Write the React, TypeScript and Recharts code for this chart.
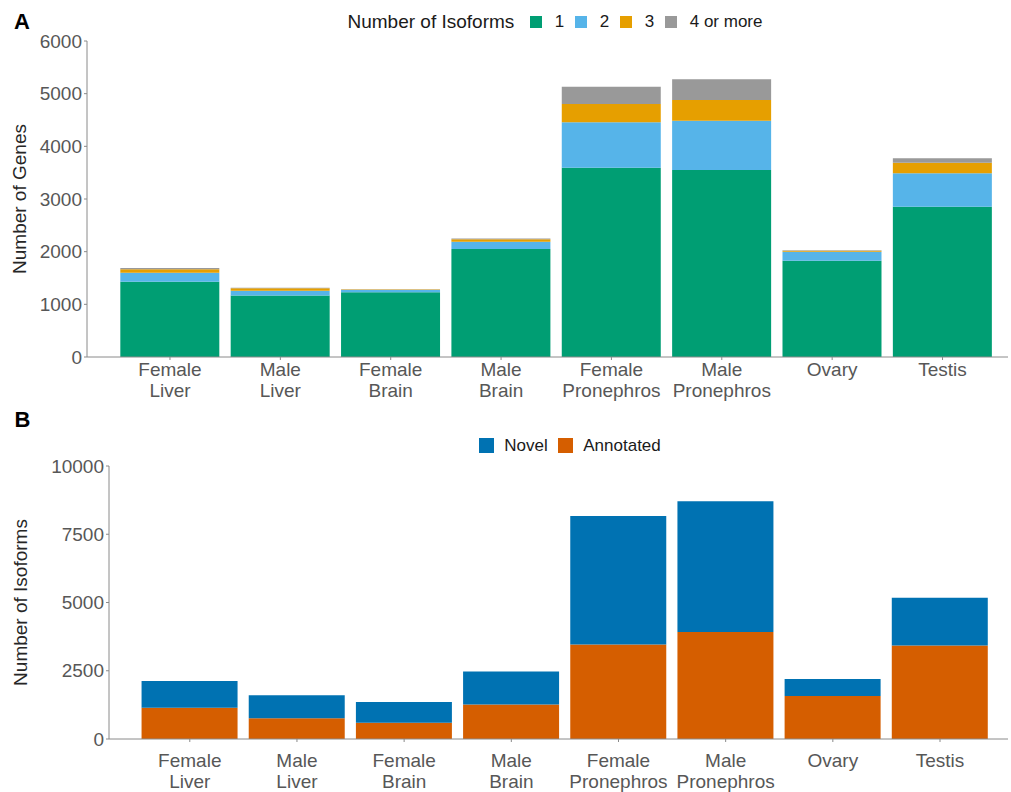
import { BarChart, Bar, XAxis, YAxis, Legend } from 'recharts';

// tissues shared by both panels
const tissues = [
  'Female Liver', 'Male Liver', 'Female Brain', 'Male Brain',
  'Female Pronephros', 'Male Pronephros', 'Ovary', 'Testis',
];

// panel A: genes by number of isoforms
const isoform1 = [1430, 1170, 1228, 2050, 3594, 3550, 1828, 2854];
const isoform2 = [170, 90, 44, 140, 861, 937, 172, 633];
const isoform3 = [65, 45, 8, 45, 348, 393, 18, 203];
const isoform4plus = [25, 10, 5, 15, 329, 392, 10, 82];
const genesTicks = [0, 1000, 2000, 3000, 4000, 5000, 6000];

// panel B: isoforms, annotated vs novel
const annotated = [1146, 756, 597, 1268, 3464, 3915, 1573, 3428];
const novel = [976, 842, 757, 1208, 4708, 4793, 622, 1742];
const isoformTicks = [0, 2500, 5000, 7500, 10000];

const seriesA = [
  { key: 'iso1', name: '1', color: '#009E73' },
  { key: 'iso2', name: '2', color: '#56B4E9' },
  { key: 'iso3', name: '3', color: '#E69F00' },
  { key: 'iso4', name: '4 or more', color: '#999999' },
];
const seriesB = [
  { key: 'annotated', name: 'Annotated', color: '#D55E00' },
  { key: 'novel', name: 'Novel', color: '#0072B2' },
];
const legendOrderB = ['Novel', 'Annotated'];

const genesData = tissues.map((t, i) => ({
  tissue: t,
  iso1: isoform1[i],
  iso2: isoform2[i],
  iso3: isoform3[i],
  iso4: isoform4plus[i],
}));

const isoformData = tissues.map((t, i) => ({
  tissue: t,
  annotated: annotated[i],
  novel: novel[i],
}));

const FONT = '"Liberation Sans", Arial, Helvetica, sans-serif';
const AXIS_COLOR = '#8a8a8a';
const TICK_COLOR = '#575757';

function CategoryTick(props: any) {
  const { x, y, payload, firstDy } = props;
  const words = String(payload.value).split(' ');
  return (
    <text x={x} y={y} textAnchor="middle" fill={TICK_COLOR} fontSize={19} fontFamily={FONT}>
      {words.map((w: string, i: number) => (
        <tspan key={i} x={x} dy={i === 0 ? firstDy : 20.5}>{w}</tspan>
      ))}
    </text>
  );
}

function LegendA({ payload }: any) {
  const items = payload || [];
  return (
    <div style={{ display: 'flex', alignItems: 'center', height: 44, paddingLeft: 347.5, fontFamily: FONT }}>
      <span style={{ fontSize: 19, color: '#1a1a1a', marginRight: 15.5 }}>Number of Isoforms</span>
      {seriesA.map((s) => {
        const item = items.find((p: any) => p.value === s.name);
        return (
          <span key={s.key} style={{ display: 'flex', alignItems: 'center', marginRight: 10.5 }}>
            <span style={{ width: 12, height: 12, background: item ? item.color : s.color, marginRight: 13 }} />
            <span style={{ fontSize: 17, color: '#1a1a1a' }}>{s.name}</span>
          </span>
        );
      })}
    </div>
  );
}

function LegendB({ payload }: any) {
  const items = [...(payload || [])].sort(
    (a: any, b: any) => legendOrderB.indexOf(a.value) - legendOrderB.indexOf(b.value),
  );
  return (
    <div style={{ display: 'flex', alignItems: 'center', height: 31, paddingLeft: 479.3, fontFamily: FONT }}>
      {items.map((p: any) => (
        <span key={p.value} style={{ display: 'flex', alignItems: 'center', marginRight: 10.5 }}>
          <span style={{ width: 15, height: 15, background: p.color, marginRight: 10 }} />
          <span style={{ fontSize: 17, color: '#1a1a1a' }}>{p.value}</span>
        </span>
      ))}
    </div>
  );
}

const panelLetter = {
  position: 'absolute' as const,
  fontFamily: FONT,
  fontWeight: 700,
  fontSize: 22,
  lineHeight: '22px',
  color: '#000',
};

export default function App() {
  return (
    <div style={{ position: 'absolute', left: 0, top: 0, width: 1011, height: 792, background: '#fff', fontFamily: FONT }}>
      <div style={{ ...panelLetter, left: 14, top: 11 }}>A</div>
      <div style={{ ...panelLetter, left: 14.5, top: 408.5 }}>B</div>

      <div style={{ position: 'absolute', left: 0, top: 0 }}>
        <BarChart width={1011} height={405} data={genesData} margin={{ top: 41, right: 3, left: 0, bottom: 0 }} barCategoryGap="5%">
          <XAxis
            dataKey="tissue"
            height={48}
            interval={0}
            padding={{ left: 27.8, right: 10.3 }}
            stroke={AXIS_COLOR}
            tickLine={{ stroke: AXIS_COLOR }}
            tickSize={3}
            tickMargin={2}
            tick={(p: any) => <CategoryTick {...p} firstDy={14} />}
          />
          <YAxis
            width={87}
            domain={[0, 6000]}
            ticks={genesTicks}
            interval={0}
            stroke={AXIS_COLOR}
            tickLine={{ stroke: AXIS_COLOR }}
            tickSize={3}
            tickMargin={2}
            tick={{ fill: TICK_COLOR, fontSize: 19, fontFamily: FONT }}
            label={{
              value: 'Number of Genes',
              angle: -90,
              position: 'insideLeft',
              offset: 19,
              fill: '#262626',
              fontSize: 19,
              fontFamily: FONT,
              style: { textAnchor: 'middle' },
            }}
          />
          <Legend
            verticalAlign="middle"
            align="center"
            content={<LegendA />}
            wrapperStyle={{ top: 0, left: 0, width: 1011, height: 44 }}
          />
          {seriesA.map((s) => (
            <Bar key={s.key} dataKey={s.key} name={s.name} stackId="genes" fill={s.color} isAnimationActive={false} />
          ))}
        </BarChart>
      </div>

      <div style={{ position: 'absolute', left: 0, top: 400 }}>
        <BarChart width={1011} height={392} data={isoformData} margin={{ top: 66, right: 3, left: 0, bottom: 0 }} barCategoryGap="5%">
          <XAxis
            dataKey="tissue"
            height={53}
            interval={0}
            padding={{ left: 27.2, right: 14.4 }}
            stroke={AXIS_COLOR}
            tickLine={{ stroke: AXIS_COLOR }}
            tickSize={3}
            tickMargin={2}
            tick={(p: any) => <CategoryTick {...p} firstDy={23} />}
          />
          <YAxis
            width={109}
            domain={[0, 10000]}
            ticks={isoformTicks}
            interval={0}
            stroke={AXIS_COLOR}
            tickLine={{ stroke: AXIS_COLOR }}
            tickSize={3}
            tickMargin={2}
            tick={{ fill: TICK_COLOR, fontSize: 19, fontFamily: FONT }}
            label={{
              value: 'Number of Isoforms',
              angle: -90,
              position: 'insideLeft',
              offset: 20,
              fill: '#262626',
              fontSize: 19,
              fontFamily: FONT,
              style: { textAnchor: 'middle' },
            }}
          />
          <Legend
            verticalAlign="middle"
            align="center"
            content={<LegendB />}
            wrapperStyle={{ top: 30, left: 0, width: 1011, height: 31 }}
          />
          {seriesB.map((s) => (
            <Bar key={s.key} dataKey={s.key} name={s.name} stackId="isoforms" fill={s.color} isAnimationActive={false} />
          ))}
        </BarChart>
      </div>
    </div>
  );
}
